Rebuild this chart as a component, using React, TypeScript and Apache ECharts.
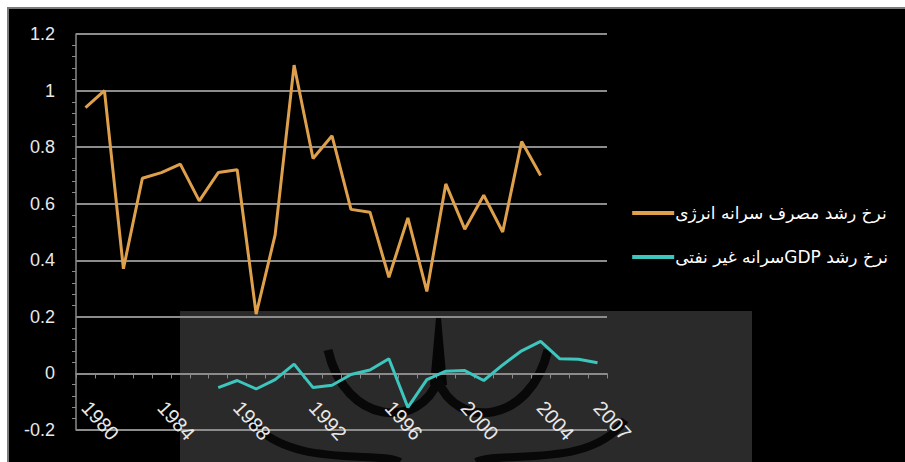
import React, { useEffect, useRef } from "react";
import * as echarts from "echarts";

const years = [
  "1980", "1981", "1982", "1983", "1984", "1985", "1986", "1987", "1988", "1989",
  "1990", "1991", "1992", "1993", "1994", "1995", "1996", "1997", "1998", "1999",
  "2000", "2001", "2002", "2003", "2004", "2005", "2006", "2007",
];

const energyName = "نرخ رشد مصرف سرانه انرژی";
const gdpName = "نرخ رشد GDPسرانه غیر نفتی";

const energyGrowth = [
  0.94, 1.0, 0.37, 0.69, 0.71, 0.74, 0.61, 0.71, 0.72, 0.21,
  0.49, 1.09, 0.76, 0.84, 0.58, 0.57, 0.34, 0.55, 0.29, 0.67,
  0.51, 0.63, 0.5, 0.82, 0.7, null, null, null,
];

const gdpGrowth = [
  null, null, null, null, null, null, null, -0.05, -0.025, -0.055,
  -0.022, 0.033, -0.05, -0.042, -0.004, 0.012, 0.052, -0.12, -0.022, 0.008,
  0.01, -0.025, 0.03, 0.08, 0.113, 0.052, 0.05, 0.038,
];

const yMin = -0.2;
const yMax = 1.2;
const yStep = 0.2;
const shownYearIdx = [0, 4, 8, 12, 16, 20, 24, 27];

export default function App() {
  const ref = useRef<HTMLDivElement>(null);

  useEffect(() => {
    const chart = echarts.init(ref.current!, null, { renderer: "svg" });
    const axisFont = '"Liberation Sans", Arial, sans-serif';
    chart.setOption({
      animation: false,
      backgroundColor: "transparent",
      grid: { left: 76, right: 298, top: 34, bottom: 32, containLabel: false, outerBoundsMode: "none" },
      legend: {
        orient: "vertical",
        right: 12,
        top: 198,
        icon: "rect",
        itemWidth: 42,
        itemHeight: 4,
        itemGap: 24,
        data: [energyName, gdpName],
        formatter: (name: string) => "\u202B" + name + "\u202C",
        textStyle: {
          color: "#ffffff",
          fontSize: 17,
          lineHeight: 20,
          padding: [0, 0, 0, -4],
          fontFamily: '"DejaVu Sans", "Noto Sans", sans-serif',
        },
      },
      graphic: [
        {
          type: "rect",
          z: 1,
          shape: { x: 180, y: 311, width: 572, height: 151 },
          style: { fill: "#2a2a2a" },
        },
        {
          type: "polygon",
          z: 1,
          shape: { points: [[436, 318], [441, 318], [447, 385], [430, 385]] },
          style: { fill: "#050505" },
        },
        {
          type: "bezierCurve",
          z: 1,
          shape: { x1: 328, y1: 350, cpx1: 345, cpy1: 425, cpx2: 420, cpy2: 430, x2: 438, y2: 380 },
          style: { stroke: "#080808", lineWidth: 9, fill: "none" },
        },
        {
          type: "bezierCurve",
          z: 1,
          shape: { x1: 438, y1: 380, cpx1: 456, cpy1: 430, cpx2: 530, cpy2: 425, x2: 548, y2: 350 },
          style: { stroke: "#080808", lineWidth: 9, fill: "none" },
        },
        {
          type: "bezierCurve",
          z: 1,
          shape: { x1: 250, y1: 420, cpx1: 290, cpy1: 470, cpx2: 380, cpy2: 450, x2: 400, y2: 462 },
          style: { stroke: "#080808", lineWidth: 8, fill: "none" },
        },
        {
          type: "bezierCurve",
          z: 1,
          shape: { x1: 476, y1: 462, cpx1: 500, cpy1: 450, cpx2: 590, cpy2: 470, x2: 625, y2: 420 },
          style: { stroke: "#080808", lineWidth: 8, fill: "none" },
        },
      ],
      xAxis: {
        type: "category",
        data: years,
        boundaryGap: true,
        z: 3,
        axisLine: { onZero: true, lineStyle: { color: "#8a8a8a", width: 1.5 } },
        axisTick: { show: true, length: 5, lineStyle: { color: "#8a8a8a" }, interval: 0 },
        axisLabel: {
          rotate: -48,
          margin: -26,
          color: "#e8e8e8",
          fontSize: 20,
          fontFamily: axisFont,
          interval: (idx: number) => shownYearIdx.indexOf(idx) >= 0,
        },
        splitLine: { show: false },
      },
      yAxis: {
        type: "value",
        min: yMin,
        max: yMax,
        interval: yStep,
        z: 3,
        axisLine: { show: true, lineStyle: { color: "#8a8a8a", width: 1.5 } },
        axisTick: { show: false },
        minorTick: { show: true, splitNumber: 5, length: 4, lineStyle: { color: "#8a8a8a" } },
        axisLabel: {
          margin: 21,
          color: "#e8e8e8",
          fontSize: 18,
          fontFamily: axisFont,
        },
        splitLine: { show: true, lineStyle: { color: "#8c8c8c", width: 2 } },
      },
      series: [
        {
          name: energyName,
          type: "line",
          data: energyGrowth,
          symbol: "none",
          connectNulls: false,
          z: 4,
          lineStyle: { color: "#dfa04c", width: 3 },
          itemStyle: { color: "#dfa04c" },
        },
        {
          name: gdpName,
          type: "line",
          data: gdpGrowth,
          symbol: "none",
          connectNulls: false,
          z: 4,
          lineStyle: { color: "#3cc6bd", width: 3 },
          itemStyle: { color: "#3cc6bd" },
        },
      ],
    });
    return () => chart.dispose();
  }, []);

  return (
    <div style={{ position: "fixed", left: 0, top: 0, width: 905, height: 462, background: "#ffffff" }}>
      <div
        style={{
          position: "absolute",
          left: 7,
          top: 7,
          width: 898,
          height: 455,
          boxSizing: "border-box",
          background: "#000000",
          borderTop: "2px solid #7a7a7a",
          borderLeft: "2px solid #7a7a7a",
        }}
      />
      <div ref={ref} style={{ position: "absolute", left: 0, top: 0, width: 905, height: 462 }} />
    </div>
  );
}
